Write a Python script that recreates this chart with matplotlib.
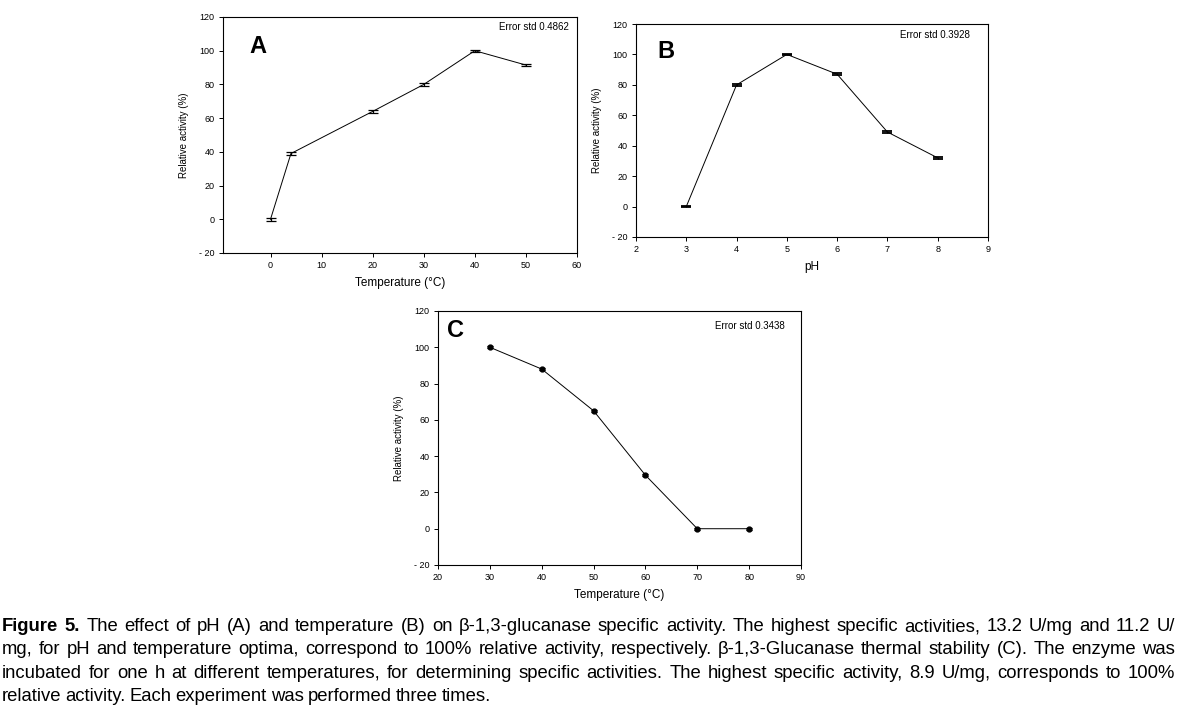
import matplotlib
matplotlib.use("Agg")
import matplotlib.pyplot as plt

plt.rcParams['font.family'] = ['Liberation Sans', 'DejaVu Sans']
plt.rcParams['axes.unicode_minus'] = False

# Panel A: temperature effect
temp_a = [0, 4, 20, 30, 40, 50]
act_a = [0, 39, 64, 80, 100, 91.5]
err_a = [1.0, 0.8, 0.8, 0.7, 0.5, 0.5]

# Panel B: pH effect
ph_b = [3, 4, 5, 6, 7, 8]
act_b = [0, 80, 100, 87, 49, 32]
err_b = [0.6, 0.6, 0.6, 0.6, 0.6, 0.6]

# Panel C: thermal stability
temp_c = [30, 40, 50, 60, 70, 80]
act_c = [100, 88, 65, 29.5, 0, 0]
err_c = [0.5, 0.5, 0.5, 0.5, 0.5, 0.5]

yticks = [-20, 0, 20, 40, 60, 80, 100, 120]
ytick_labels = ['- 20', '0', '20', '40', '60', '80', '100', '120']

caption_lines = [
    "The effect of pH (A) and temperature (B) on \u03b2-1,3-glucanase specific activity. The highest specific activities, 13.2 U/mg and 11.2 U/",
    "mg, for pH and temperature optima, correspond to 100% relative activity, respectively. \u03b2-1,3-Glucanase thermal stability (C). The enzyme was",
    "incubated for one h at different temperatures, for determining specific activities. The highest specific activity, 8.9 U/mg, corresponds to 100%",
    "relative activity. Each experiment was performed three times.",
]

W, H = 1180, 712
fig = plt.figure(figsize=(W / 100, H / 100), dpi=100)


def px_axes(left, top, right, bottom):
    return fig.add_axes([left / W, (H - bottom) / H, (right - left) / W, (bottom - top) / H])


def style(ax, xlim, xticks, xlabel, letter, letter_pos, err_text, err_pos):
    ax.set_ylim(-20, 120)
    ax.set_yticks(yticks, ytick_labels)
    ax.set_xlim(*xlim)
    ax.set_xticks(xticks)
    ax.tick_params(direction='out', length=3, width=0.7, labelsize=6.5)
    ax.tick_params(axis='x', pad=3)
    ax.tick_params(axis='y', pad=3)
    for s in ax.spines.values():
        s.set_linewidth(0.8)
    ax.set_xlabel(xlabel, fontsize=8.5, labelpad=5)
    ax.set_ylabel('Relative activity (%)', fontsize=7, labelpad=7)
    ax.text(letter_pos[0], letter_pos[1], letter, transform=ax.transAxes,
            fontsize=17, fontweight='bold', va='center', ha='center')
    ax.text(err_pos[0], err_pos[1], err_text, transform=ax.transAxes,
            fontsize=7, va='center', ha='right')


ax_a = px_axes(223, 17, 577, 253)
ax_a.errorbar(temp_a, act_a, yerr=err_a, color='black', lw=0.7,
              capsize=3.5, capthick=0.9, elinewidth=0.9)
style(ax_a, (-9.3, 60), [0, 10, 20, 30, 40, 50, 60], 'Temperature (\u00b0C)',
      'A', (0.099, 0.877), 'Error std 0.4862', (0.977, 0.958))

ax_b = px_axes(636, 24, 988, 237)
ax_b.errorbar(ph_b, act_b, yerr=err_b, color='black', lw=0.7,
              capsize=3.5, capthick=1.3, elinewidth=0.9)
style(ax_b, (2, 9), [2, 3, 4, 5, 6, 7, 8, 9], 'pH',
      'B', (0.085, 0.869), 'Error std 0.3928', (0.949, 0.948))

ax_c = px_axes(438, 311, 801, 565)
ax_c.errorbar(temp_c, act_c, yerr=err_c, color='black', lw=0.7,
              marker='o', ms=3.5, capsize=2.5, capthick=0.9, elinewidth=0.9)
style(ax_c, (20, 90), [20, 30, 40, 50, 60, 70, 80, 90], 'Temperature (\u00b0C)',
      'C', (0.047, 0.925), 'Error std 0.3438', (0.956, 0.941))

# caption below the panels, justified like the source page
cap_size = 13.3
left_px, right_px = 2, 1175
base_y = [631, 654, 678, 701]
renderer = fig.canvas.get_renderer()
for i, (line, y) in enumerate(zip(caption_lines, base_y)):
    words = line.split(' ')
    bold = [False] * len(words)
    if i == 0:
        words = ['Figure', '5.'] + words
        bold = [True, True] + bold
    texts = []
    for w, b in zip(words, bold):
        t = fig.text(0, 1 - y / H, w, fontsize=cap_size,
                     fontweight='bold' if b else 'normal',
                     va='baseline', ha='left')
        texts.append(t)
    widths = [t.get_window_extent(renderer).width for t in texts]
    if i < len(caption_lines) - 1:
        gap = (right_px - left_px - sum(widths)) / (len(words) - 1)
    else:
        gap = 4.0
    x = left_px
    for t, w in zip(texts, widths):
        t.set_x(x / W)
        x += w + gap

fig.savefig('out.png', dpi=100)
